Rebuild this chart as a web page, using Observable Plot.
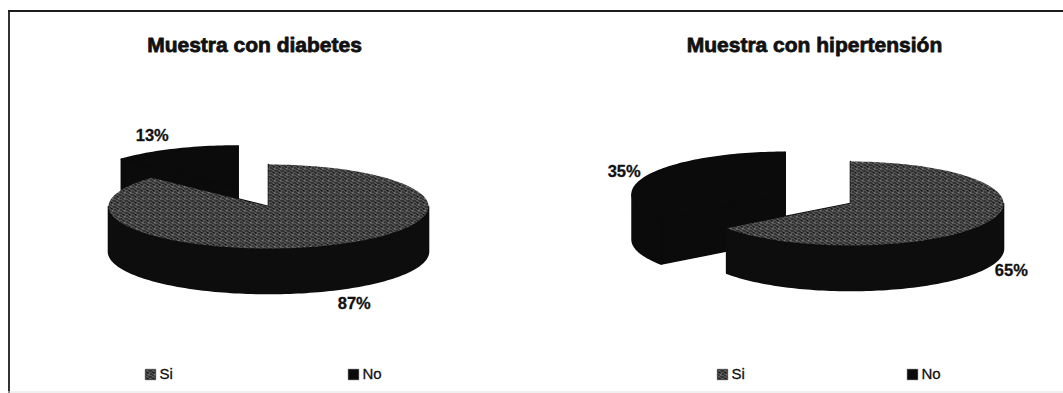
<!DOCTYPE html>
<html>
<head>
<meta charset="utf-8">
<script src="https://cdn.jsdelivr.net/npm/d3@7"></script>
<script src="https://cdn.jsdelivr.net/npm/@observablehq/plot@0.6"></script>
<style>
  html, body { margin: 0; padding: 0; background: #fff; }
  #chart svg { display: block; }
</style>
</head>
<body>
<div id="chart"></div>
<script>
// Respuestas por categoría (porcentaje de la muestra)
const categories = ["Si", "No"];
const chartTitles = ["Muestra con diabetes", "Muestra con hipertensión"];
const diabetesPct = [87, 13];
const hipertensionPct = [65, 35];

const W = 1063, H = 393;
const FONT = "'Liberation Sans', Arial, Helvetica, sans-serif";
const TAU = 2 * Math.PI;

// Geometría de cada pastel 3D (elipse, grosor y separación de la porción "No")
const panels = [
  {title: chartTitles[0], values: diabetesPct, cx: 268, cy: 206, rx: 160, ry: 42, depth: 45,
   explode: 0.48, labelK: 1.35, titleX: 254, legendX: [150, 353]},
  {title: chartTitles[1], values: hipertensionPct, cx: 850, cy: 203, rx: 153, ry: 42, depth: 45,
   explode: 0.48, labelK: 1.18, titleX: 814, legendX: [722, 912]}
];

const PATTERN = "url(#trama)";
const faceFill = {
  Si: {top: PATTERN, side: "#0d0d0d"},
  No: {top: "#0b0b0b", side: "#0b0b0b"}
};

function arcPts(cx, cy, rx, ry, a0, a1, dy = 0) {
  const n = Math.max(2, Math.ceil(Math.abs(a1 - a0) / (Math.PI / 120)));
  return d3.range(n + 1).map(i => {
    const a = a0 + (a1 - a0) * i / n;
    return {x: cx + rx * Math.sin(a), y: cy - ry * Math.cos(a) + dy};
  });
}

function pieParts(p) {
  const total = d3.sum(p.values);
  const arcs = d3.pie().sort(null)(p.values);
  const slices = arcs.map((a, i) => {
    const mid = (a.startAngle + a.endAngle) / 2;
    const exploded = categories[i] === "No";
    const ox = exploded ? p.rx * p.explode * Math.sin(mid) : 0;
    const oy = exploded ? -p.ry * p.explode * Math.cos(mid) : 0;
    return {key: categories[i], value: a.value, share: a.value / total,
            a0: a.startAngle, a1: a.endAngle, mid, cx: p.cx + ox, cy: p.cy + oy};
  });

  // painter's order: farthest slice first
  const ordered = slices.slice().sort((s, t) =>
    (s.cy - p.ry * Math.cos(s.mid)) - (t.cy - p.ry * Math.cos(t.mid)));

  const faces = [];
  for (const s of ordered) {
    const f = faceFill[s.key];
    const h = p.depth;
    const C = {x: s.cx, y: s.cy};
    // radial cut walls
    for (const a of [s.a0, s.a1]) {
      const P = {x: s.cx + p.rx * Math.sin(a), y: s.cy - p.ry * Math.cos(a)};
      faces.push({fill: f.side, stroke: f.side,
        pts: [C, P, {x: P.x, y: P.y + h}, {x: C.x, y: C.y + h}, C]});
    }
    // outer rim, only the half that faces the viewer
    for (const k of [0, 1]) {
      const lo = Math.max(s.a0, Math.PI / 2 + k * TAU);
      const hi = Math.min(s.a1, 3 * Math.PI / 2 + k * TAU);
      if (hi > lo) {
        const top = arcPts(s.cx, s.cy, p.rx, p.ry, lo, hi);
        const bottom = arcPts(s.cx, s.cy, p.rx, p.ry, hi, lo, h);
        faces.push({fill: f.side, stroke: f.side, pts: [...top, ...bottom, top[0]]});
      }
    }
    // top face
    faces.push({fill: f.top, stroke: f.top === PATTERN ? "none" : f.top,
      pts: [C, ...arcPts(s.cx, s.cy, p.rx, p.ry, s.a0, s.a1), C]});
  }

  const labels = slices.map(s => {
    const front = Math.cos(s.mid) < 0;
    return {x: s.cx + p.rx * p.labelK * Math.sin(s.mid),
            y: s.cy - p.ry * p.labelK * Math.cos(s.mid) + (front ? p.depth : 0),
            text: `${Math.round(s.share * 100)}%`};
  });
  return {faces, labels};
}

const marks = [];

// marco del gráfico
marks.push(Plot.ruleY([10.5], {x1: 8, x2: W, stroke: "#1c1c1c", strokeWidth: 1.8}));
marks.push(Plot.ruleX([8.5], {y1: 10, y2: H, stroke: "#1c1c1c", strokeWidth: 1.8}));
marks.push(Plot.ruleY([391.5], {x1: 8, x2: W, stroke: "#e2e2e2", strokeWidth: 1}));

for (const p of panels) {
  const {faces, labels} = pieParts(p);
  for (const face of faces) {
    marks.push(Plot.line(face.pts, {x: "x", y: "y", fill: face.fill, stroke: face.stroke,
      strokeWidth: 1.6, strokeLinejoin: "round", curve: "linear"}));
  }
  marks.push(Plot.text(labels, {x: "x", y: "y", text: "text", fontSize: 16.5, fontWeight: "bold",
    fontFamily: FONT, fill: "#111", stroke: "#111", strokeWidth: 0.3, textAnchor: "middle"}));
  marks.push(Plot.text([p.title], {x: p.titleX, y: 45, text: d => d, fontSize: 21, fontWeight: "bold",
    fontFamily: FONT, fill: "#111", stroke: "#111", strokeWidth: 0.8, textAnchor: "middle"}));
  // leyenda
  categories.forEach((c, i) => {
    marks.push(Plot.dot([c], {x: p.legendX[i], y: 374, symbol: "square", r: 5.9,
      fill: faceFill[c].top, stroke: "#111", strokeWidth: 0.5}));
    marks.push(Plot.text([c], {x: p.legendX[i] + 9, y: 374, text: d => d, fontSize: 15,
      fontFamily: FONT, fill: "#111", stroke: "#111", strokeWidth: 0.3, textAnchor: "start"}));
  });
}

const svg = Plot.plot({
  width: W,
  height: H,
  margin: 0,
  x: {domain: [0, W], axis: null},
  y: {domain: [0, H], range: [0, H], axis: null},
  style: {background: "#fff", fontFamily: FONT},
  marks
});

// trama punteada de la porción "Si"
const defs = d3.select(svg).insert("defs", ":first-child");
const pat = defs.append("pattern").attr("id", "trama").attr("patternUnits", "userSpaceOnUse")
  .attr("width", 6).attr("height", 6);
pat.append("rect").attr("width", 6).attr("height", 6).attr("fill", "#121212");
for (const [px, py] of [[0, 0], [3, 0], [4, 0], [1, 1], [5, 1], [2, 2], [3, 2], [0, 3], [4, 3], [1, 4], [5, 4], [2, 5], [4, 5]]) {
  pat.append("rect").attr("x", px).attr("y", py).attr("width", 1).attr("height", 1).attr("fill", "#9c9c9c");
}

document.getElementById("chart").appendChild(svg);
</script>
</body>
</html>
